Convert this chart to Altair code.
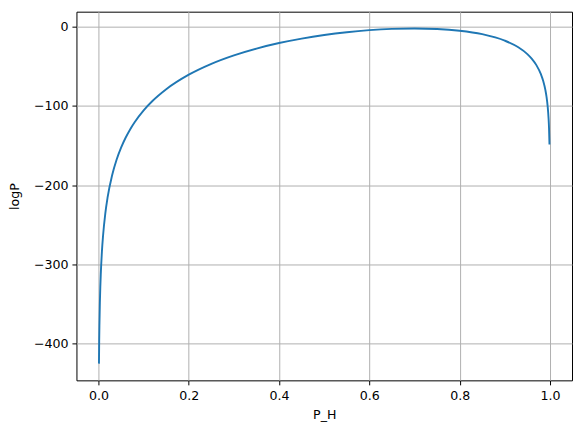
import altair as alt
import pandas as pd

p_h = [0.001, 0.0015, 0.002, 0.003, 0.004, 0.005, 0.0075, 0.01, 0.015, 0.02,
       0.03, 0.04, 0.05, 0.06, 0.07, 0.08, 0.1, 0.12, 0.15, 0.2, 0.25, 0.3,
       0.35, 0.4, 0.45, 0.5, 0.55, 0.6, 0.65, 0.7, 0.75, 0.8, 0.85, 0.9,
       0.93, 0.95, 0.96, 0.97, 0.98, 0.985, 0.99, 0.9925, 0.995, 0.997,
       0.998, 0.999]
log_p = [-424.92, -396.55, -376.43, -348.08, -327.98, -312.38, -284.08, -264.01,
         -235.78, -215.80, -187.72, -167.89, -152.59, -140.15, -129.68, -120.65,
         -105.69, -93.60, -79.03, -60.70, -47.02, -36.33, -27.76, -20.81, -15.19,
         -10.66, -7.16, -4.60, -3.00, -2.44, -3.08, -5.25, -9.64, -17.81, -26.21,
         -34.81, -40.78, -48.68, -60.12, -68.40, -80.21, -88.67, -100.65, -115.83,
         -127.93, -148.65]

x_ticks = [0.0, 0.2, 0.4, 0.6, 0.8, 1.0]
y_ticks = [-400, -300, -200, -100, 0]

df = pd.DataFrame({"P_H": p_h, "logP": log_p})

font = "DejaVu Sans"

chart = alt.Chart(df).mark_line(color="#1f77b4", strokeWidth=1.9, interpolate="monotone").encode(
    x=alt.X("P_H:Q",
            scale=alt.Scale(domain=[-0.0489, 1.0489], nice=False, zero=False),
            axis=alt.Axis(values=x_ticks, format=".1f", title="P_H")),
    y=alt.Y("logP:Q",
            scale=alt.Scale(domain=[-446.0, 18.7], nice=False, zero=False),
            axis=alt.Axis(values=y_ticks, format="d", title="logP")),
).properties(
    width=496, height=369,
    autosize=alt.AutoSizeParams(type="none"),
    padding={"left": 68.5, "top": 3.5, "right": 2, "bottom": 46},
).configure_view(
    stroke="black", strokeWidth=1
).configure_axis(
    domain=False,
    grid=True, gridColor="#b0b0b0", gridWidth=1,
    tickColor="black", tickSize=4.5, tickWidth=1,
    labelFont=font, labelFontSize=12.6, labelColor="black",
    titleFont=font, titleFontSize=12.6, titleFontWeight="normal", titleColor="black",
).configure_axisX(labelPadding=5, titlePadding=6).configure_axisY(labelPadding=4, titlePadding=12)

chart.save("out.html", embed_options={"renderer": "svg", "actions": False})
